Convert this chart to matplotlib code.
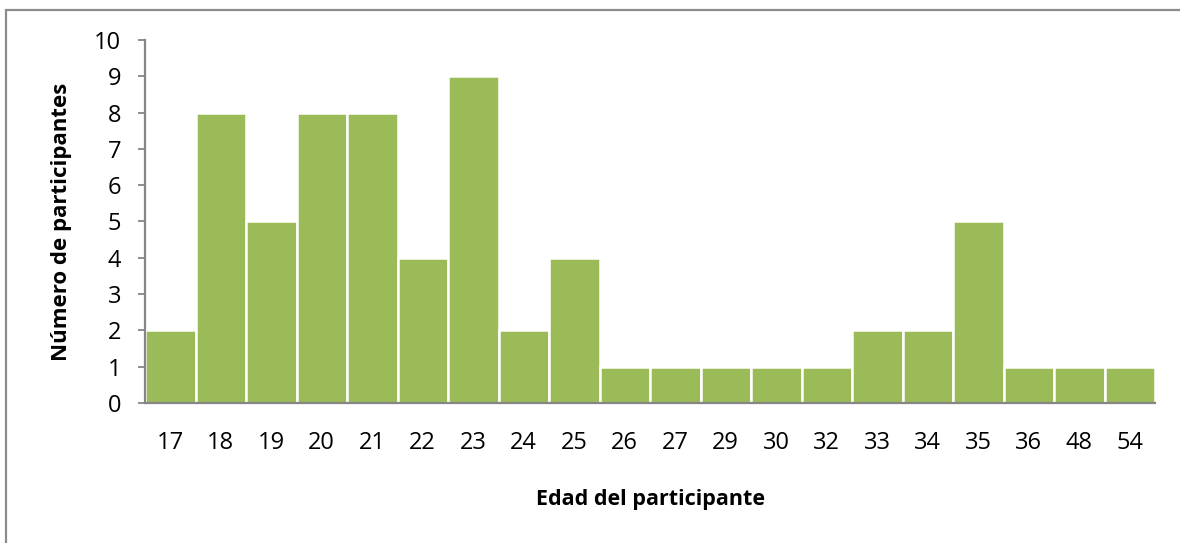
import matplotlib.pyplot as plt
import numpy as np
from matplotlib.patches import Rectangle

plt.rcParams["font.family"] = ["Open Sans", "DejaVu Sans"]

edades = ["17", "18", "19", "20", "21", "22", "23", "24", "25", "26",
          "27", "29", "30", "32", "33", "34", "35", "36", "48", "54"]
participantes = [2, 8, 5, 8, 8, 4, 9, 2, 4, 1,
                 1, 1, 1, 1, 2, 2, 5, 1, 1, 1]

fig = plt.figure(figsize=(11.8, 5.43), dpi=100)
ax = fig.add_axes([145 / 1180, 1 - 403 / 543, 1010 / 1180, 363 / 543])

x = np.arange(len(edades))
ax.bar(x, participantes, width=1.0, color="#9bbb59", edgecolor="white",
       linewidth=1.8, zorder=2)

ax.set_xlim(-0.5, len(edades) - 0.5)
ax.set_ylim(0, 10)
ax.set_yticks(range(0, 11))
ax.set_xticks(x)
ax.set_xticklabels(edades)

grey = "#868686"
for s in ("top", "right"):
    ax.spines[s].set_visible(False)
for s in ("left", "bottom"):
    ax.spines[s].set_color(grey)
    ax.spines[s].set_linewidth(1.6)
    ax.spines[s].set_zorder(3)

ax.tick_params(axis="y", direction="out", length=5, width=1.3, color=grey,
               labelsize=17, pad=12)
ax.tick_params(axis="x", length=0, labelsize=17, pad=20)

ax.set_ylabel("Número de participantes", fontsize=16, fontweight="bold")
ax.yaxis.set_label_coords(-0.072, 0.5)
ax.set_xlabel("Edad del participante", fontsize=15.5, fontweight="bold", labelpad=25)

# chart area border (partly cut off on right and bottom)
fig.patches.append(Rectangle((6 / 1180, -0.05), 1.1, 1 - 10 / 543 + 0.05,
                             transform=fig.transFigure, fill=False,
                             edgecolor="#8c8c8c", linewidth=1.6))

fig.savefig("out.png", dpi=100)
